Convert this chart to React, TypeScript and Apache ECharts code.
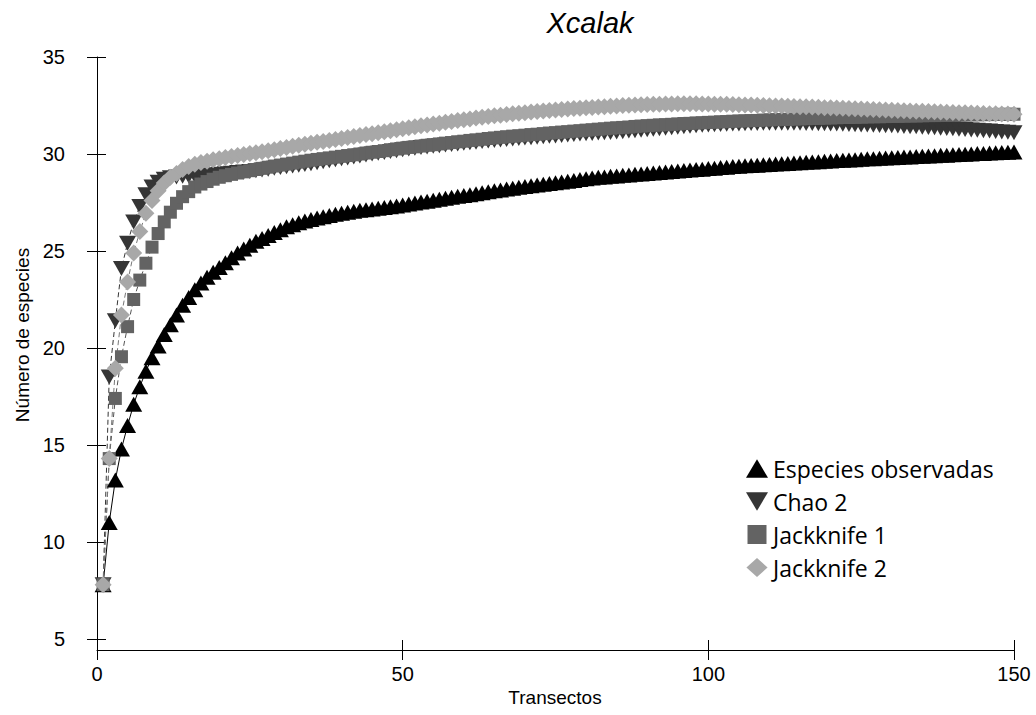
import React, { useEffect, useRef } from "react";
import * as echarts from "echarts";

const titleText = "Xcalak";
const xAxisName = "Transectos";
const yAxisName = "Número de especies";
const xTicks = [0, 50, 100, 150];
const yTicks = [5, 10, 15, 20, 25, 30, 35];
const seriesNames = ["Especies observadas", "Chao 2", "Jackknife 1", "Jackknife 2"];

const transectos = Array.from({ length: 150 }, (_, i) => i + 1);

const especiesObservadas = [
  7.8, 11.0, 13.2, 14.8, 16.0, 17.1, 18.0, 18.8, 19.5, 20.1,
  20.7, 21.2, 21.7, 22.2, 22.6, 23.0, 23.35, 23.65, 23.9, 24.15,
  24.4, 24.65, 24.9, 25.1, 25.3, 25.5, 25.65, 25.8, 25.95, 26.1,
  26.25, 26.35, 26.45, 26.55, 26.62, 26.7, 26.77, 26.83, 26.9, 26.95,
  27.0, 27.05, 27.1, 27.13, 27.17, 27.2, 27.24, 27.28, 27.32, 27.37,
  27.42, 27.47, 27.52, 27.57, 27.62, 27.67, 27.72, 27.77, 27.82, 27.86,
  27.9, 27.95, 28.0, 28.05, 28.1, 28.15, 28.2, 28.24, 28.28, 28.32,
  28.36, 28.4, 28.44, 28.48, 28.52, 28.56, 28.6, 28.64, 28.68, 28.72,
  28.76, 28.8, 28.82, 28.85, 28.87, 28.9, 28.92, 28.95, 28.97, 29.0,
  29.02, 29.05, 29.07, 29.1, 29.12, 29.15, 29.17, 29.2, 29.22, 29.25,
  29.27, 29.3, 29.32, 29.35, 29.37, 29.39, 29.41, 29.42, 29.44, 29.46,
  29.48, 29.5, 29.51, 29.53, 29.55, 29.57, 29.59, 29.6, 29.62, 29.64,
  29.66, 29.68, 29.69, 29.71, 29.73, 29.75, 29.76, 29.78, 29.79, 29.81,
  29.82, 29.84, 29.85, 29.87, 29.88, 29.9, 29.91, 29.93, 29.94, 29.96,
  29.97, 29.99, 30.0, 30.02, 30.03, 30.05, 30.06, 30.08, 30.09, 30.1,
];

const chao2 = [
  7.8, 18.5, 21.4, 24.1, 25.4, 26.5, 27.3, 27.9, 28.3, 28.55,
  28.7, 28.78, 28.82, 28.85, 28.87, 28.88, 28.9, 28.91, 28.93, 28.95,
  28.98, 29.01, 29.04, 29.07, 29.1, 29.14, 29.18, 29.22, 29.26, 29.3,
  29.34, 29.38, 29.42, 29.46, 29.5, 29.55, 29.6, 29.65, 29.7, 29.75,
  29.8, 29.85, 29.9, 29.95, 30.0, 30.04, 30.08, 30.13, 30.17, 30.22,
  30.26, 30.29, 30.33, 30.36, 30.4, 30.43, 30.46, 30.49, 30.52, 30.55,
  30.58, 30.61, 30.64, 30.67, 30.7, 30.72, 30.75, 30.77, 30.8, 30.82,
  30.84, 30.86, 30.89, 30.91, 30.93, 30.95, 30.98, 31.0, 31.03, 31.05,
  31.06, 31.08, 31.1, 31.11, 31.13, 31.15, 31.18, 31.2, 31.22, 31.25,
  31.28, 31.3, 31.33, 31.35, 31.38, 31.4, 31.43, 31.45, 31.48, 31.5,
  31.51, 31.52, 31.53, 31.54, 31.55, 31.56, 31.57, 31.57, 31.58, 31.58,
  31.58, 31.58, 31.58, 31.58, 31.58, 31.57, 31.57, 31.56, 31.56, 31.55,
  31.54, 31.53, 31.52, 31.51, 31.5, 31.49, 31.48, 31.47, 31.46, 31.45,
  31.44, 31.42, 31.41, 31.4, 31.38, 31.37, 31.35, 31.33, 31.31, 31.3,
  31.28, 31.26, 31.24, 31.22, 31.2, 31.18, 31.16, 31.14, 31.12, 31.1,
];

const jackknife1 = [
  7.8, 14.3, 17.4, 19.55, 21.1, 22.5, 23.5, 24.37, 25.2, 25.9,
  26.5, 27.0, 27.46, 27.8, 28.06, 28.3, 28.45, 28.58, 28.7, 28.8,
  28.88, 28.95, 29.02, 29.08, 29.14, 29.2, 29.26, 29.32, 29.38, 29.43,
  29.48, 29.53, 29.58, 29.63, 29.68, 29.72, 29.76, 29.8, 29.84, 29.88,
  29.92, 29.96, 30.0, 30.05, 30.09, 30.13, 30.17, 30.22, 30.26, 30.3,
  30.34, 30.37, 30.41, 30.45, 30.48, 30.52, 30.56, 30.59, 30.63, 30.66,
  30.7, 30.73, 30.76, 30.8, 30.83, 30.86, 30.89, 30.92, 30.94, 30.97,
  31.0, 31.02, 31.05, 31.08, 31.1, 31.13, 31.15, 31.18, 31.2, 31.23,
  31.25, 31.28, 31.3, 31.33, 31.35, 31.37, 31.39, 31.42, 31.44, 31.46,
  31.48, 31.5, 31.51, 31.53, 31.55, 31.57, 31.58, 31.6, 31.61, 31.63,
  31.64, 31.66, 31.67, 31.69, 31.7, 31.71, 31.72, 31.73, 31.75, 31.76,
  31.77, 31.78, 31.79, 31.8, 31.81, 31.82, 31.83, 31.84, 31.85, 31.86,
  31.87, 31.88, 31.88, 31.89, 31.9, 31.91, 31.92, 31.92, 31.93, 31.94,
  31.94, 31.95, 31.96, 31.96, 31.97, 31.98, 31.98, 31.99, 31.99, 32.0,
  32.01, 32.01, 32.02, 32.02, 32.03, 32.03, 32.04, 32.04, 32.05, 32.05,
];

const jackknife2 = [
  7.8, 14.3, 18.95, 21.7, 23.4, 24.9, 26.0, 26.95, 27.6, 28.1,
  28.5, 28.8, 29.0, 29.2, 29.35, 29.47, 29.56, 29.63, 29.7, 29.76,
  29.82, 29.87, 29.92, 29.97, 30.02, 30.07, 30.12, 30.17, 30.22, 30.28,
  30.34, 30.4, 30.45, 30.5, 30.55, 30.6, 30.65, 30.7, 30.75, 30.8,
  30.85, 30.9, 30.95, 31.0, 31.05, 31.1, 31.15, 31.2, 31.25, 31.3,
  31.35, 31.4, 31.45, 31.5, 31.55, 31.59, 31.64, 31.68, 31.73, 31.77,
  31.81, 31.85, 31.89, 31.93, 31.97, 32.0, 32.04, 32.07, 32.1, 32.13,
  32.16, 32.19, 32.22, 32.24, 32.27, 32.29, 32.32, 32.34, 32.36, 32.38,
  32.4, 32.42, 32.44, 32.46, 32.48, 32.5, 32.51, 32.53, 32.54, 32.55,
  32.56, 32.57, 32.58, 32.58, 32.59, 32.59, 32.59, 32.59, 32.58, 32.58,
  32.57, 32.57, 32.56, 32.55, 32.54, 32.53, 32.52, 32.51, 32.5, 32.49,
  32.48, 32.47, 32.46, 32.45, 32.44, 32.43, 32.42, 32.41, 32.39, 32.38,
  32.37, 32.36, 32.34, 32.33, 32.32, 32.31, 32.29, 32.28, 32.27, 32.26,
  32.24, 32.23, 32.22, 32.21, 32.2, 32.19, 32.18, 32.16, 32.15, 32.14,
  32.13, 32.12, 32.11, 32.1, 32.09, 32.08, 32.07, 32.06, 32.06, 32.05,
];

const AXIS_FONT = '"Liberation Sans", Arial, sans-serif';
const LEGEND_FONT = '"Open Sans", "Noto Sans", sans-serif';
const UP_TRI = "path://M10,0L20,17L0,17Z";
const INV_TRI = "path://M0,0L20,0L10,17Z";
const SQUARE = "path://M0,0L10,0L10,10L0,10Z";
const DIAMOND = "path://M10,0L20,9L10,18L0,9Z";

function pair(vals: number[]) {
  return vals.map((v, i) => [transectos[i], v]);
}

export default function App() {
  const ref = useRef<HTMLDivElement>(null);
  useEffect(() => {
    if (!ref.current) return;
    const chart = echarts.init(ref.current, null, { renderer: "svg" });
    const xMin = xTicks[0];
    const xMax = xTicks[xTicks.length - 1];
    const yMin = yTicks[0];
    const yMax = yTicks[yTicks.length - 1];
    const axisBase = {
      splitLine: { show: false },
      axisLine: { show: true, lineStyle: { color: "#000", width: 1 } },
    };
    const option: any = {
      animation: false,
      backgroundColor: "#fff",
      grid: { left: 97, right: 22, top: 57, bottom: 76, containLabel: false, outerBoundsMode: "none" },
      graphic: [
        {
          type: "text",
          x: 590,
          y: 23,
          style: {
            text: titleText,
            font: `italic 29px ${AXIS_FONT}`,
            fill: "#000",
            textAlign: "center",
            textVerticalAlign: "middle",
          },
        },
        {
          type: "text",
          x: 555,
          y: 697,
          style: {
            text: xAxisName,
            font: `19px ${AXIS_FONT}`,
            fill: "#000",
            textAlign: "center",
            textVerticalAlign: "middle",
          },
        },
        {
          type: "text",
          x: 22,
          y: 335,
          rotation: Math.PI / 2,
          style: {
            text: yAxisName,
            font: `19px ${AXIS_FONT}`,
            fill: "#000",
            textAlign: "center",
            textVerticalAlign: "middle",
          },
        },
      ],
      legend: {
        orient: "vertical",
        left: 741,
        top: 452,
        itemWidth: 22,
        itemHeight: 19,
        itemGap: 10,
        textStyle: { fontSize: 23, fontFamily: LEGEND_FONT, color: "#000" },
        data: [
          { name: seriesNames[0], icon: UP_TRI },
          { name: seriesNames[1], icon: INV_TRI },
          { name: seriesNames[2], icon: SQUARE, itemStyle: { color: "#636363" } },
          { name: seriesNames[3], icon: DIAMOND },
        ],
      },
      xAxis: [
        {
          ...axisBase,
          type: "value",
          min: xMin,
          max: xMax,
          interval: 50,
          offset: 11,
          axisTick: { show: true, inside: false, length: 10, lineStyle: { color: "#000" } },
          axisLabel: { fontSize: 20, fontFamily: AXIS_FONT, color: "#000", margin: 14 },
        },
        {
          type: "value",
          min: xMin,
          max: xMax,
          interval: 50,
          offset: 11,
          position: "bottom",
          splitLine: { show: false },
          axisLine: { show: false },
          axisTick: { show: true, inside: true, length: 10, lineStyle: { color: "#000" } },
          axisLabel: { show: false },
        },
      ],
      yAxis: [
        {
          ...axisBase,
          type: "value",
          min: yMin,
          max: yMax,
          interval: 5,
          offset: 19,
          axisTick: { show: true, inside: false, length: 10, lineStyle: { color: "#000" } },
          axisLabel: { fontSize: 20, fontFamily: AXIS_FONT, color: "#000", margin: 13 },
        },
        {
          type: "value",
          min: yMin,
          max: yMax,
          interval: 5,
          offset: 19,
          position: "left",
          splitLine: { show: false },
          axisLine: { show: false },
          axisTick: { show: true, inside: true, length: 9, lineStyle: { color: "#000" } },
          axisLabel: { show: false },
        },
      ],
      series: [
        {
          name: seriesNames[0],
          type: "line",
          data: pair(especiesObservadas),
          symbol: "triangle",
          symbolSize: [17, 15],
          showAllSymbol: true,
          itemStyle: { color: "#000000" },
          lineStyle: { color: "#000000", width: 1 },
        },
        {
          name: seriesNames[1],
          type: "line",
          data: pair(chao2),
          symbol: "triangle",
          symbolRotate: 180,
          symbolSize: [17, 15],
          showAllSymbol: true,
          itemStyle: { color: "#353535" },
          lineStyle: { color: "#353535", width: 1, type: [5, 3] },
        },
        {
          name: seriesNames[2],
          type: "line",
          data: pair(jackknife1),
          symbol: "rect",
          symbolSize: 13,
          showAllSymbol: true,
          itemStyle: { color: "#636363" },
          lineStyle: { color: "#555555", width: 1, type: [5, 3] },
        },
        {
          name: seriesNames[3],
          type: "line",
          data: pair(jackknife2),
          symbol: "diamond",
          symbolSize: 17,
          showAllSymbol: true,
          itemStyle: { color: "#a8a8a8" },
          lineStyle: { color: "#777777", width: 1, type: [5, 3] },
        },
      ],
    };
    chart.setOption(option);
    return () => chart.dispose();
  }, []);
  return (
    <div
      ref={ref}
      style={{ position: "absolute", left: 0, top: 0, width: 1036, height: 715 }}
    />
  );
}
